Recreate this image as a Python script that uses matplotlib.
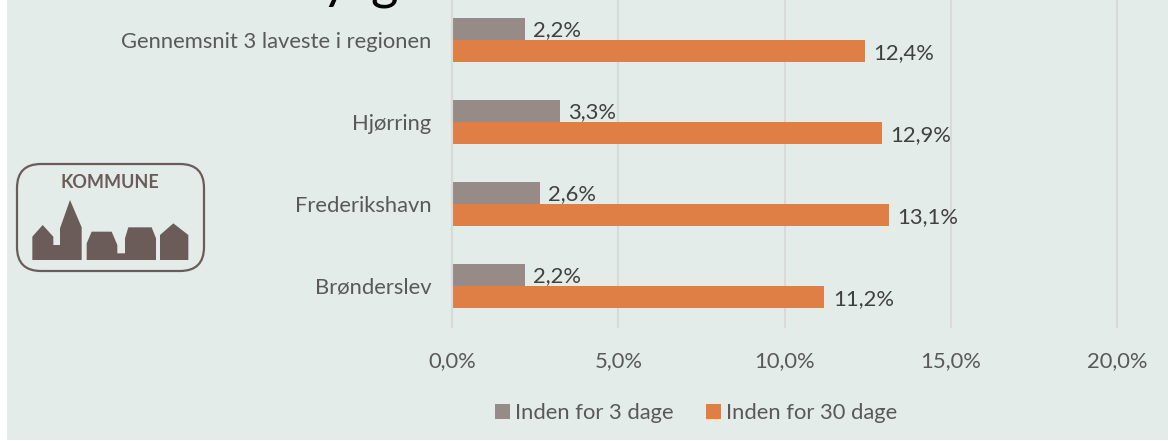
import matplotlib
matplotlib.use("Agg")
import matplotlib.pyplot as plt
from matplotlib.patches import Rectangle, FancyBboxPatch, Polygon

W, H = 1168, 441
categories = ["Brønderslev", "Frederikshavn", "Hjørring", "Gennemsnit 3 laveste i regionen"]
within_3 = [2.2, 2.64, 3.26, 2.2]
within_30 = [11.2, 13.13, 12.93, 12.43]
xticks = [0, 5, 10, 15, 20]
series_names = ["Inden for 3 dage", "Inden for 30 dage"]

GREY, ORANGE, BG = "#968B87", "#DF7F45", "#E3ECE9"
TXT, LBL, GRID, LOGO = "#595959", "#404040", "#D9D9D9", "#6B5C5A"
FS = 15.8
plt.rcParams["font.family"] = ["Lato", "DejaVu Sans"]


def comma(v):
    return f"{v:.1f}".replace(".", ",") + "%"


fig = plt.figure(figsize=(W / 100, H / 100), dpi=100, facecolor="white")

# canvas layer in pixel coordinates: background, logo, clipped title
bg = fig.add_axes([0, 0, 1, 1], zorder=0)
bg.set_xlim(0, W)
bg.set_ylim(H, 0)
bg.axis("off")
bg.add_patch(Rectangle((7, 0), W - 7, 440, fc=BG, ec="none"))
bg.add_patch(FancyBboxPatch((17 + 24, 164 + 24), 187 - 48, 107 - 48, boxstyle="round,pad=24",
                            fc="none", ec=LOGO, lw=1.6))
bg.text(110, 182, "KOMMUNE", ha="center", va="center", fontsize=13, fontweight="bold", color=LOGO)
houses = [
    [(97, 260), (128, 225), (160, 260), (160, 285), (180, 285), (180, 235), (210, 150), (245, 232), (245, 330), (97, 330)],
    [(260, 330), (260, 280), (275, 245), (335, 245), (352, 285), (352, 310), (375, 310), (375, 265), (385, 232),
     (455, 232), (468, 265), (468, 330)],
    [(480, 330), (480, 255), (520, 220), (565, 255), (565, 330)],
]
for h in houses:
    bg.add_patch(Polygon([(x / 3, 150 + y / 3) for x, y in h], fc=LOGO, ec="none"))
bg.text(335, -2, "y", ha="center", va="baseline", fontsize=38, color="black")
bg.text(384, -2, "g", ha="center", va="baseline", fontsize=38, color="black")

# chart axes
left, right, top, bottom = 452, 1117, -1, 327
ax = fig.add_axes([left / W, 1 - bottom / H, (right - left) / W, (bottom - top) / H], zorder=1)
ax.patch.set_alpha(0)
ax.set_xlim(0, 20)
ax.set_ylim(-0.5, 3.5)
ypos = list(range(len(categories)))
hgt = 0.268
ax.barh([y + hgt / 2 for y in ypos], within_3, height=hgt, color=GREY, label=series_names[0], zorder=3)
ax.barh([y - hgt / 2 for y in ypos], within_30, height=hgt, color=ORANGE, label=series_names[1], zorder=3)
for y, a, b in zip(ypos, within_3, within_30):
    ax.annotate(comma(a), (a, y + hgt / 2), xytext=(5.8, -1), textcoords="offset points", va="center",
                fontsize=FS, color=LBL, zorder=4, annotation_clip=False)
    ax.annotate(comma(b), (b, y - hgt / 2), xytext=(6, -1.5), textcoords="offset points", va="center",
                fontsize=FS, color=LBL, zorder=4, annotation_clip=False)
for s in ax.spines.values():
    s.set_visible(False)
ax.set_xticks(xticks)
ax.set_xticklabels([comma(v) for v in xticks], fontsize=FS, color=TXT)
ax.set_yticks(ypos)
ax.set_yticklabels(categories, fontsize=FS, color=TXT)
ax.tick_params(length=0)
ax.tick_params(axis="x", pad=17)
ax.tick_params(axis="y", pad=15)
ax.grid(axis="x", color=GRID, lw=1.5, zorder=1, clip_on=False)
for gl in ax.get_xgridlines():
    gl.set_clip_on(False)
ax.set_axisbelow(True)
ax.axvline(0, color=GRID, lw=1.5, zorder=5, clip_on=False)
handles, labels = ax.get_legend_handles_labels()
ax.legend(handles, labels, loc="center", bbox_to_anchor=(696 / W, 1 - 413 / H), bbox_transform=fig.transFigure,
          ncol=2, frameon=False, fontsize=FS, labelcolor=TXT, handlelength=0.68, handleheight=0.68,
          handletextpad=0.23, columnspacing=1.5, borderpad=0)

fig.savefig("out.png", dpi=100, facecolor="white")
